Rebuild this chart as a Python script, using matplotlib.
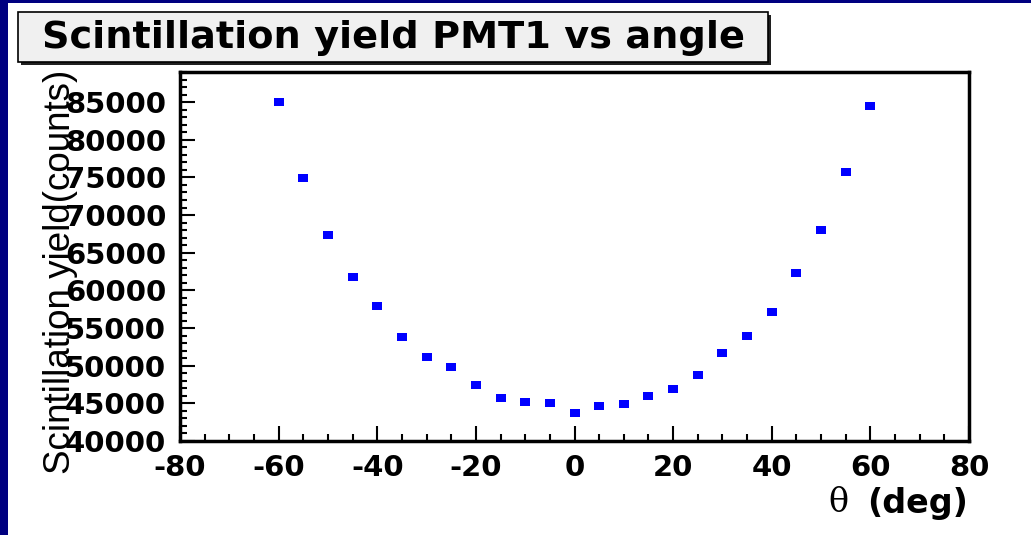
import numpy as np
import matplotlib
matplotlib.use("Agg")
import matplotlib.pyplot as plt
from matplotlib.patches import Rectangle
from matplotlib.path import Path
from matplotlib.ticker import MultipleLocator

# scintillation yield of PMT1 per incidence angle
angle_deg = [-60, -55, -50, -45, -40, -35, -30, -25, -20, -15, -10, -5,
             0, 5, 10, 15, 20, 25, 30, 35, 40, 45, 50, 55, 60]
yield_counts = [85000, 74960, 67370, 61770, 57870, 53780, 51170, 49840, 47440,
                45750, 45120, 45080, 43750, 44640, 44910, 46020, 46910, 48770,
                51740, 53970, 57070, 62260, 68030, 75720, 84550]

W, H = 1031, 535
plt.rcParams['font.family'] = ['DejaVu Sans']
plt.rcParams['axes.unicode_minus'] = False

fig = plt.figure(figsize=(W / 100, H / 100), dpi=100)
fig.patch.set_facecolor("white")

def fx(px):
    return px / W

def fy(py):
    return 1 - py / H

# navy slide border (left and top)
fig.add_artist(Rectangle((0, 0), fx(8), 1, transform=fig.transFigure,
                         color="#000080", lw=0))
fig.add_artist(Rectangle((0, fy(3)), 1, 3 / H, transform=fig.transFigure,
                         color="#000080", lw=0))

# title box with drop shadow
bx0, by0, bx1, by1 = 18, 12, 768, 62
fig.add_artist(Rectangle((fx(bx0 + 3), fy(by1 + 3)), fx(bx1 - bx0), (by1 - by0) / H,
                         transform=fig.transFigure, color="#202020", lw=0))
fig.add_artist(Rectangle((fx(bx0), fy(by1)), fx(bx1 - bx0), (by1 - by0) / H,
                         transform=fig.transFigure, facecolor="#f0f0f0",
                         edgecolor="black", lw=1.2))
fig.text(fx(393), fy((by0 + by1) / 2 + 1), "Scintillation yield PMT1 vs angle",
         ha="center", va="center", fontsize=27.5, fontweight="bold")

ax = fig.add_axes([fx(180), fy(441), fx(969 - 180), (441 - 72) / H])

# rectangular marker, wider than tall
rect = Path([(-1.5, -1.2), (1.5, -1.2), (1.5, 1.2), (-1.5, 1.2), (-1.5, -1.2)],
            [Path.MOVETO, Path.LINETO, Path.LINETO, Path.LINETO, Path.CLOSEPOLY])
ax.plot(angle_deg, yield_counts, linestyle="none", marker=rect, markersize=7,
        color="#0000ff", markeredgewidth=0)

ax.set_xlim(-80, 80)
ax.set_ylim(40000, 89000)
ax.xaxis.set_major_locator(MultipleLocator(20))
ax.xaxis.set_minor_locator(MultipleLocator(5))
ax.yaxis.set_major_locator(MultipleLocator(5000))
ax.yaxis.set_minor_locator(MultipleLocator(1000))

ax.tick_params(which="both", direction="in", top=False, right=False,
               width=1.5, labelsize=21)
ax.tick_params(which="major", length=11)
ax.tick_params(which="minor", length=5)
ax.tick_params(axis="y", pad=10)
ax.tick_params(axis="x", pad=9)
for lab in ax.get_xticklabels() + ax.get_yticklabels():
    lab.set_fontweight("bold")

for side in ax.spines.values():
    side.set_linewidth(2.5)

fig.text(fx(61), fy(272), "Scintillation yield(counts)", rotation=90,
         ha="center", va="center", fontsize=26.5, family=["Liberation Sans", "DejaVu Sans"])
fig.text(fx(968), fy(503), "(deg)", ha="right", va="center",
         fontsize=24, fontweight="bold")
fig.text(fx(849), fy(503), "θ", ha="right", va="center",
         fontsize=24, family=["DejaVu Serif"])

fig.savefig("out.png", dpi=100)
